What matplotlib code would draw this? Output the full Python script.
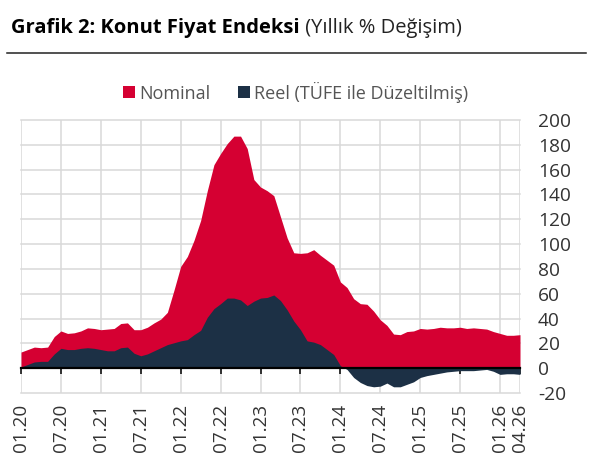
import matplotlib
matplotlib.use('Agg')
import matplotlib.pyplot as plt
from matplotlib.lines import Line2D
import numpy as np

plt.rcParams['font.family'] = ['Open Sans', 'DejaVu Sans']
plt.rcParams['axes.unicode_minus'] = False

NOMINAL_COLOR = '#d50032'
REAL_COLOR = '#1c3045'
GRID_COLOR = '#d9d9d9'
TEXT_COLOR = '#333333'

# monthly values, 01.20 to 04.26
nominal = [13, 15, 17, 16.5, 17, 25.5, 30, 28, 28.5, 30, 32.5, 32,
           31, 31.5, 32, 36, 36.5, 31, 31, 33, 36.5, 39.5, 45, 63,
           82, 90, 103, 119, 143, 164, 173, 181, 187, 187, 177, 152,
           146, 143, 139, 122, 105, 93, 92.5, 93, 95.5, 91, 87, 83,
           69.5, 65, 56, 52, 51.5, 46, 39, 34.5, 27.5, 27, 29.5, 30,
           32, 31.5, 32, 33, 32.5, 32.5, 33, 32, 32.5, 32, 31.5, 29.5,
           28, 26.5, 26.5, 27]
real = [1, 3, 5, 5.5, 5.5, 11.5, 16, 15, 15, 16, 16.5, 16,
        15, 14, 14, 16.5, 17, 12, 10, 11.5, 14, 16.5, 19, 20.5,
        22, 23, 27, 30.5, 41, 48, 52, 56.5, 56.5, 55, 50.5, 54,
        56.5, 57, 59, 54.5, 47, 38, 31, 22, 21, 19, 15, 11,
        2, -1, -7.5, -11.5, -14, -15, -14.5, -12, -15, -15, -13, -11,
        -7.5, -6, -5, -4, -3, -2.5, -2, -2, -2, -1.5, -1, -2.5,
        -5, -4.5, -4.5, -5]

tick_months = [0, 6, 12, 18, 24, 30, 36, 42, 48, 54, 60, 66, 72, 75]
tick_labels = ['01.20', '07.20', '01.21', '07.21', '01.22', '07.22', '01.23',
               '07.23', '01.24', '07.24', '01.25', '07.25', '01.26', '04.26']
y_ticks = list(range(-20, 201, 20))

W, H = 595, 474
fig = plt.figure(figsize=(W / 100, H / 100), dpi=100)
ax = fig.add_axes([21 / W, 1 - 393 / H, 499 / W, 273 / H])

months = np.arange(len(nominal))
h1 = ax.fill_between(months, 0, nominal, color=NOMINAL_COLOR, lw=0, zorder=2, label='Nominal')
h2 = ax.fill_between(months, 0, real, color=REAL_COLOR, lw=0, zorder=3, label='Reel (TÜFE ile Düzeltilmiş)')

ax.set_xlim(0, 75)
ax.set_ylim(-20, 200)
ax.set_yticks(y_ticks)
ax.set_xticks(tick_months)
ax.set_xticklabels(tick_labels)
ax.yaxis.tick_right()
ax.tick_params(axis='y', length=0, pad=13, labelsize=13.8, labelcolor=TEXT_COLOR)
for lab in ax.get_yticklabels():
    lab.set_ha('left')
ax.tick_params(axis='x', length=4.5, width=1.1, color='black', pad=21,
               labelrotation=90, labelsize=13.6, labelcolor=TEXT_COLOR)

ax.grid(True, color=GRID_COLOR, lw=1.1, zorder=1)
ax.set_axisbelow(True)
for g in ax.get_xgridlines() + ax.get_ygridlines():
    g.set_clip_on(False)
# no grid line or tick on the last month
ax.get_xgridlines()[-1].set_visible(False)
ax.xaxis.get_major_ticks()[-1].tick1line.set_visible(False)

for side in ['top', 'left', 'right']:
    ax.spines[side].set_visible(False)
ax.spines['bottom'].set_position(('data', 0))
ax.spines['bottom'].set_linewidth(1.6)
ax.spines['bottom'].set_color('black')
ax.spines['bottom'].set_zorder(5)

# title, bold part then regular part
title = fig.text(11 / W, 1 - 28 / H, 'Grafik 2: Konut Fiyat Endeksi', fontsize=14.5,
                 fontweight='bold', color='black', va='center', ha='left')
ax.annotate(' (Yıllık % Değişim)', xy=(1, 0), xycoords=title, fontsize=14.5,
            color='#222222', va='bottom', ha='left', annotation_clip=False)
fig.add_artist(Line2D([7 / W, 586 / W], [1 - 53 / H, 1 - 53 / H], color='#222222', lw=1.1))

fig.legend(handles=[h1, h2], loc='center', bbox_to_anchor=(295.5 / W, 1 - 92 / H), ncol=2,
           frameon=False, fontsize=13, labelcolor='#555555', handlelength=0.68, handleheight=0.68,
           handletextpad=0.25, columnspacing=1.5, borderpad=0)

fig.savefig('out.png', dpi=100)
